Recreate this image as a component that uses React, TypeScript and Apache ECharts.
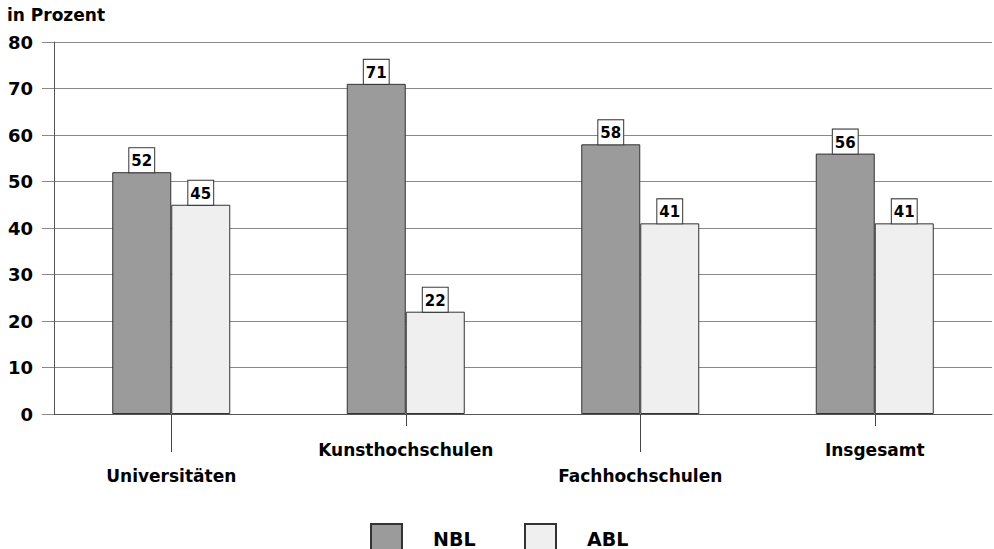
import React, { useEffect, useRef } from "react";
import * as echarts from "echarts";

const categories = ["Universitäten", "Kunsthochschulen", "Fachhochschulen", "Insgesamt"];
const nblValues = [52, 71, 58, 56];
const ablValues = [45, 22, 41, 41];
const yTicks = { min: 0, max: 80, interval: 10 };
const unitLabel = "in Prozent";
const seriesNames = ["NBL", "ABL"];

const FONT = "'DejaVu Sans', 'Liberation Sans', sans-serif";

export default function App() {
  const ref = useRef<HTMLDivElement>(null);
  useEffect(() => {
    if (!ref.current) return;
    const chart = echarts.init(ref.current, undefined, { renderer: "svg" });
    const barLabel = {
      show: true,
      position: "top",
      distance: 0,
      color: "#000",
      fontFamily: FONT,
      fontWeight: "bold",
      fontSize: 15,
      lineHeight: 16,
      backgroundColor: "#fff",
      borderColor: "#333",
      borderWidth: 1,
      padding: [5, 2, 3, 2],
    };
    const legendText = {
      fontFamily: FONT,
      fontWeight: "bold",
      fontSize: 19,
      color: "#000",
      padding: [0, 0, 0, 26],
    };
    chart.setOption({
      animation: false,
      backgroundColor: "#fff",
      graphic: [
        {
          type: "text",
          left: 7,
          top: 6,
          style: {
            text: unitLabel,
            font: `bold 17px ${FONT}`,
            fill: "#000",
          },
        },
      ],
      legend: [
        {
          data: [seriesNames[0]],
          left: 365,
          top: 518,
          itemWidth: 31,
          itemHeight: 30,
          icon: "rect",
          selectedMode: false,
          textStyle: legendText,
        },
        {
          data: [seriesNames[1]],
          left: 519,
          top: 518,
          itemWidth: 31,
          itemHeight: 30,
          icon: "rect",
          selectedMode: false,
          textStyle: legendText,
        },
      ],
      grid: { left: 54, right: 2, top: 42, bottom: 135, containLabel: false },
      xAxis: [
        {
          type: "category",
          data: categories,
          axisLine: { show: true, lineStyle: { color: "#555", width: 1 } },
          axisTick: { show: true, alignWithLabel: true, interval: 0, length: 12, lineStyle: { color: "#444" } },
          axisLabel: {
            interval: 0,
            margin: 23,
            color: "#000",
            fontFamily: FONT,
            fontWeight: "bold",
            fontSize: 17,
            lineHeight: 26,
            formatter: (v: string, i: number) => (i % 2 === 0 ? "\n" + v : v),
          },
        },
        {
          type: "category",
          data: categories,
          position: "bottom",
          axisLine: { show: false },
          axisLabel: { show: false },
          axisTick: {
            show: true,
            alignWithLabel: true,
            interval: (i: number) => i % 2 === 0,
            length: 38,
            lineStyle: { color: "#444" },
          },
        },
      ],
      yAxis: {
        type: "value",
        min: yTicks.min,
        max: yTicks.max,
        interval: yTicks.interval,
        axisLine: { show: true, lineStyle: { color: "#555" } },
        axisTick: { show: true, length: 12, lineStyle: { color: "#888" } },
        axisLabel: {
          margin: 21,
          color: "#000",
          fontFamily: FONT,
          fontWeight: "bold",
          fontSize: 18,
        },
        splitLine: { show: true, lineStyle: { color: "#888", width: 1 } },
      },
      series: [
        {
          name: seriesNames[0],
          type: "bar",
          data: nblValues,
          barWidth: 59,
          barGap: "0%",
          itemStyle: { color: "#9b9b9b", borderColor: "#333", borderWidth: 1 },
          label: barLabel,
        },
        {
          name: seriesNames[1],
          type: "bar",
          data: ablValues,
          barWidth: 59,
          barGap: "0%",
          itemStyle: { color: "#efefef", borderColor: "#333", borderWidth: 1 },
          label: barLabel,
        },
      ],
    });
    return () => chart.dispose();
  }, []);
  return (
    <div
      ref={ref}
      style={{ position: "fixed", left: 0, top: 0, width: 994, height: 549 }}
    />
  );
}
